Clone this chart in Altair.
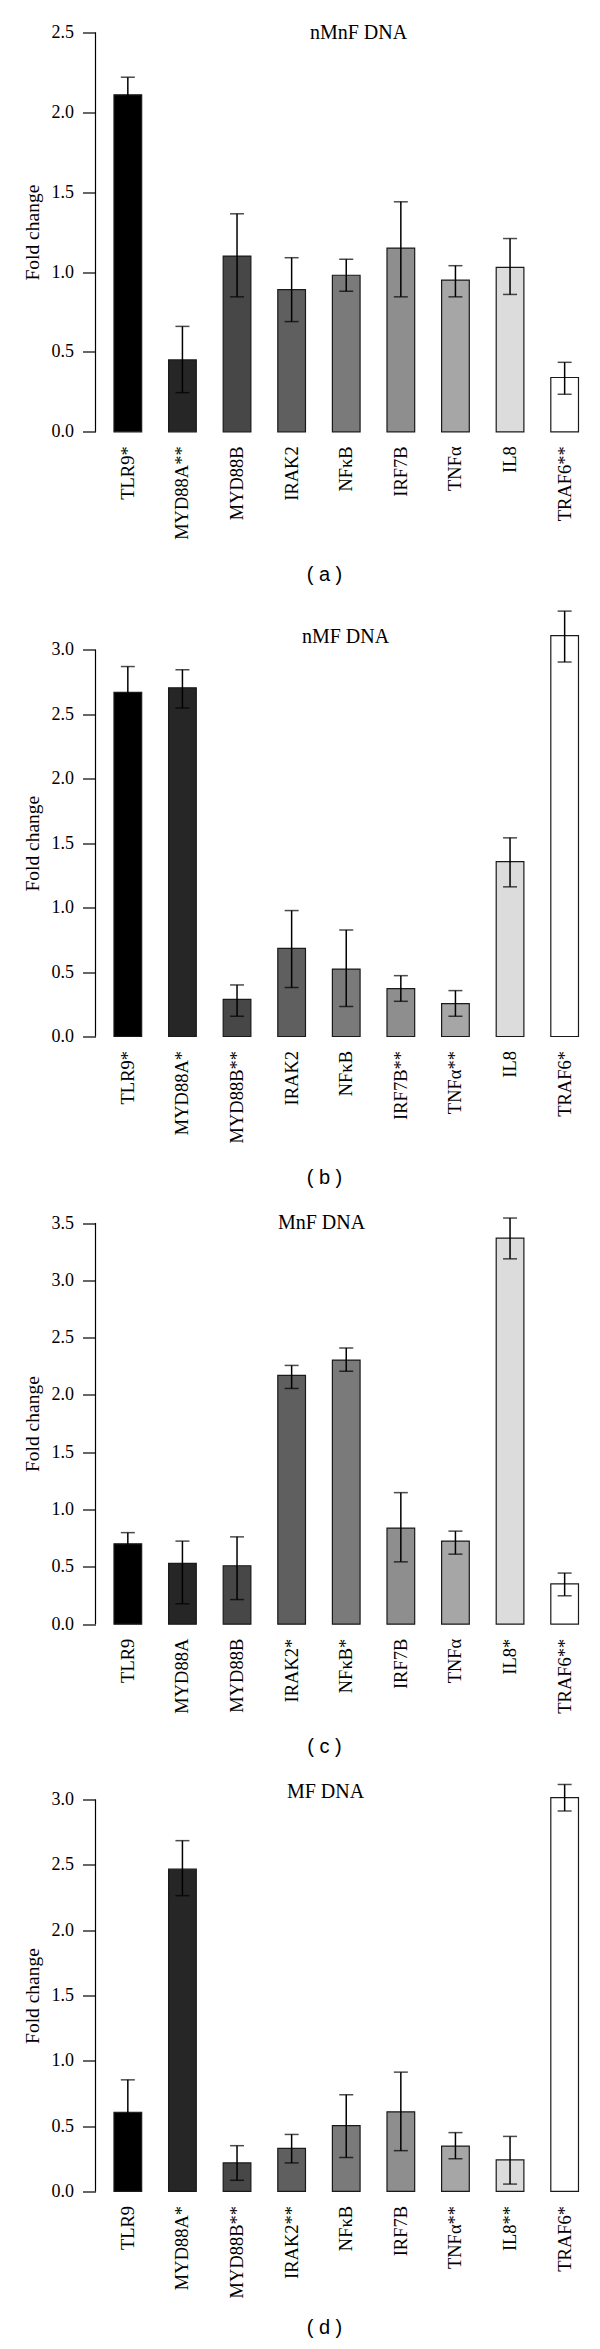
import altair as alt
import pandas as pd

# ---------------- data ----------------
genes = ["TLR9", "MYD88A", "MYD88B", "IRAK2", "NFκB", "IRF7B", "TNFα", "IL8", "TRAF6"]
gene_colors = ["#000000", "#262626", "#474747", "#5f5f5f", "#7a7a7a",
               "#8e8e8e", "#a6a6a6", "#dcdcdc", "#ffffff"]

a_labels = ["TLR9*", "MYD88A**", "MYD88B", "IRAK2", "NFκB", "IRF7B", "TNFα", "IL8", "TRAF6**"]
a_values = [2.11, 0.45, 1.10, 0.89, 0.98, 1.15, 0.95, 1.03, 0.34]
a_low = [2.00, 0.245, 0.845, 0.69, 0.88, 0.845, 0.845, 0.86, 0.235]
a_high = [2.22, 0.66, 1.365, 1.09, 1.08, 1.44, 1.04, 1.21, 0.435]

b_labels = ["TLR9*", "MYD88A*", "MYD88B**", "IRAK2", "NFκB", "IRF7B**", "TNFα**", "IL8", "TRAF6*"]
b_values = [2.67, 2.705, 0.288, 0.683, 0.523, 0.371, 0.255, 1.357, 3.11]
b_low = [2.48, 2.548, 0.157, 0.38, 0.232, 0.273, 0.157, 1.161, 2.905]
b_high = [2.87, 2.845, 0.40, 0.977, 0.826, 0.472, 0.356, 1.541, 3.30]

c_labels = ["TLR9", "MYD88A", "MYD88B", "IRAK2*", "NFκB*", "IRF7B", "TNFα", "IL8*", "TRAF6**"]
c_values = [0.701, 0.53, 0.51, 2.171, 2.305, 0.839, 0.725, 3.369, 0.352]
c_low = [0.60, 0.178, 0.215, 2.057, 2.208, 0.544, 0.611, 3.188, 0.248]
c_high = [0.799, 0.725, 0.762, 2.258, 2.409, 1.148, 0.812, 3.544, 0.446]

d_labels = ["TLR9", "MYD88A*", "MYD88B**", "IRAK2**", "NFκB", "IRF7B", "TNFα**", "IL8**", "TRAF6*"]
d_values = [0.606, 2.467, 0.218, 0.33, 0.503, 0.609, 0.347, 0.241, 3.014]
d_low = [0.36, 2.264, 0.085, 0.218, 0.259, 0.312, 0.25, 0.056, 2.912]
d_high = [0.854, 2.685, 0.35, 0.436, 0.739, 0.913, 0.45, 0.421, 3.115]

titles = ["nMnF DNA", "nMF DNA", "MnF DNA", "MF DNA"]
captions = ["( a )", "( b )", "( c )", "( d )"]
y_ticks = [[0, 0.5, 1.0, 1.5, 2.0, 2.5],
           [0, 0.5, 1.0, 1.5, 2.0, 2.5, 3.0],
           [0, 0.5, 1.0, 1.5, 2.0, 2.5, 3.0, 3.5],
           [0, 0.5, 1.0, 1.5, 2.0, 2.5, 3.0]]

SERIF = "Liberation Serif"
SANS = "Liberation Sans"
PLOT_W = 490


def panel(title, caption, labels, values, low, high, ticks, dmax, height,
          title_x, title_y, ytitle_y, cap_y):
    df = pd.DataFrame({"label": labels, "gene": genes, "value": values,
                       "low": low, "high": high})
    axis_df = pd.DataFrame({"axis_lo": [ticks[0]], "axis_hi": [ticks[-1]]})

    xscale = alt.Scale(paddingInner=0.493, paddingOuter=0.2335, align=0.725)
    xaxis = alt.Axis(title="", labelAngle=-90, labelFont=SERIF,
                     labelFontSize=18.5, labelColor="black", labelPadding=14,
                     ticks=False, domain=False)
    xenc = alt.X("label:N", sort=labels, scale=xscale, axis=xaxis)

    yscale = alt.Scale(domain=[0, dmax], nice=False, zero=True)
    yaxis = alt.Axis(title="Fold change", values=ticks, format=".1f",
                     domain=False, grid=False, tickSize=13, tickColor="black",
                     tickWidth=1.2, labelFont=SERIF, labelFontSize=18,
                     labelColor="black", labelPadding=9, titleFont=SERIF,
                     titleFontSize=19.5, titleFontWeight="normal",
                     titleColor="black", titleX=-63, titleY=ytitle_y,
                     titleBaseline="middle", titleAlign="center")

    def Y(f):
        return alt.Y(f, type="quantitative", scale=yscale, axis=yaxis)

    base = alt.Chart(df)
    bars = base.mark_bar(stroke="#1a1a1a", strokeWidth=1.2).encode(
        x=xenc, y=Y("value"),
        color=alt.Color("gene:N", scale=alt.Scale(domain=genes, range=gene_colors),
                        legend=None))
    err = base.mark_rule(color="black", strokeWidth=1.5).encode(
        x=xenc, y=Y("low"), y2="high")
    cap_hi = base.mark_tick(color="black", size=14, thickness=1.5).encode(
        x=xenc, y=Y("high"))
    cap_lo = base.mark_tick(color="black", size=14, thickness=1.5).encode(
        x=xenc, y=Y("low"))
    axis_line = alt.Chart(axis_df).mark_rule(color="black", strokeWidth=1.2).encode(
        x=alt.value(0), y=Y("axis_lo"), y2="axis_hi")

    title_txt = alt.Chart(pd.DataFrame({"t": [title]})).mark_text(
        font=SERIF, fontSize=20, color="black", align="center",
        baseline="middle").encode(text="t:N", x=alt.value(title_x),
                                  y=alt.value(title_y))
    cap_txt = alt.Chart(pd.DataFrame({"t": [caption]})).mark_text(
        font=SANS, fontSize=20, color="black", align="center",
        baseline="middle").encode(text="t:N", x=alt.value(229),
                                  y=alt.value(height + cap_y))

    return alt.layer(bars, err, cap_hi, cap_lo, axis_line, title_txt,
                     cap_txt).properties(width=PLOT_W, height=height)


pa = panel(titles[0], captions[0], a_labels, a_values, a_low, a_high, y_ticks[0],
           2.5, 399.3, 263, 0.3, 199.6, 143)
pb = panel(titles[1], captions[1], b_labels, b_values, b_low, b_high, y_ticks[1],
           3.328, 429, 250, 29, 235.7, 141)
pc = panel(titles[2], captions[2], c_labels, c_values, c_low, c_high, y_ticks[2],
           3.601, 412.7, 226, 11.5, 212.1, 122.3)
pd_ = panel(titles[3], captions[3], d_labels, d_values, d_low, d_high, y_ticks[3],
            3.0, 391.9, 230, -7.7, 196, 137)

chart = alt.vconcat(pa, pb, pc, pd_, spacing=175, bounds="flush").properties(
    padding={"left": 14.5, "top": 14.5, "right": 5, "bottom": 5}
).configure_view(strokeWidth=0)

chart.save("out.html", embed_options={"renderer": "svg", "actions": False})
